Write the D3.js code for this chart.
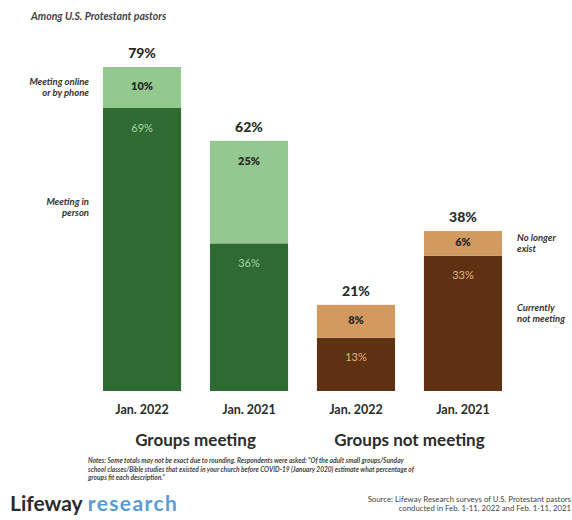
<!DOCTYPE html>
<html>
<head>
<meta charset="utf-8">
<script src="https://cdn.jsdelivr.net/npm/d3@7"></script>
<style>
  html, body { margin: 0; padding: 0; background: #fff; }
  svg { display: block; }
</style>
</head>
<body>
<svg id="chart" width="572" height="520"></svg>
<script>
// ---- data ----
const categories = ["Jan. 2022", "Jan. 2021", "Jan. 2022", "Jan. 2021"];
const groupOf = ["Groups meeting", "Groups meeting", "Groups not meeting", "Groups not meeting"];
const groupNames = ["Groups meeting", "Groups not meeting"];
const bottomValues = [69, 36, 13, 33];   // meeting in person / currently not meeting
const topValues = [10, 25, 8, 6];        // online or by phone / no longer exist
const totalLabels = [79, 62, 21, 38];

const svg = d3.select("#chart");
const font = "Lato, 'Open Sans', sans-serif";

const keys = categories.map((c, i) => i);
const x = d3.scaleBand().domain(keys).range([103, 502]).paddingInner(0.27).paddingOuter(0);
const y = d3.scaleLinear().domain([0, 79]).range([391, 67]);

const colors = {
  "Groups meeting": { bottom: "#2f6a33", top: "#93c98e", botText: "#a9d6a4" },
  "Groups not meeting": { bottom: "#5e3113", top: "#d29a5f", botText: "#e6b27a" }
};

// subtitle
svg.append("text").attr("x", 31).attr("y", 20)
  .attr("font-family", font).attr("font-size", 10.5).attr("font-style", "italic").attr("font-weight", 700)
  .attr("fill", "#444").text("Among U.S. Protestant pastors");

const bars = svg.append("g");
keys.forEach(i => {
  const g = groupOf[i];
  const c = colors[g];
  const x0 = x(i), w = x.bandwidth();
  const b = bottomValues[i], t = topValues[i];
  bars.append("rect").attr("x", x0).attr("y", y(b)).attr("width", w).attr("height", y(0) - y(b)).attr("fill", c.bottom);
  bars.append("rect").attr("x", x0).attr("y", y(b + t)).attr("width", w).attr("height", y(b) - y(b + t)).attr("fill", c.top);
  const cx = x0 + w / 2;
  const topY = y(b + t), midTop = (y(b + t) + y(b)) / 2;
  bars.append("text").attr("x", cx).attr("y", Math.min(topY + 21, midTop))
    .attr("dominant-baseline", "middle").attr("text-anchor", "middle")
    .attr("font-family", font).attr("font-size", 11).attr("font-weight", 800).attr("fill", "#2b2b2b")
    .text(t + "%");
  bars.append("text").attr("x", cx).attr("y", y(b) + 21)
    .attr("dominant-baseline", "middle").attr("text-anchor", "middle")
    .attr("font-family", font).attr("font-size", 11).attr("font-weight", 400).attr("fill", c.botText)
    .text(b + "%");
  bars.append("text").attr("x", cx).attr("y", topY - 9)
    .attr("text-anchor", "middle")
    .attr("font-family", font).attr("font-size", 14).attr("font-weight", 900).attr("fill", "#2b2b2b")
    .text(totalLabels[i] + "%");
  bars.append("text").attr("x", cx).attr("y", y(0) + 23)
    .attr("text-anchor", "middle")
    .attr("font-family", font).attr("font-size", 12.5).attr("font-weight", 700).attr("fill", "#2b2b2b")
    .text(categories[i]);
});

// group labels
groupNames.forEach(gname => {
  const idx = keys.filter(i => groupOf[i] === gname);
  const left = x(idx[0]), right = x(idx[idx.length - 1]) + x.bandwidth();
  svg.append("text").attr("x", (left + right) / 2).attr("y", y(0) + 55)
    .attr("text-anchor", "middle")
    .attr("font-family", font).attr("font-size", 17).attr("font-weight", 700).attr("fill", "#2b2b2b")
    .text(gname);
});

// side annotations
function multiline(xp, yp, lines, anchor) {
  const t = svg.append("text").attr("x", xp).attr("y", yp).attr("text-anchor", anchor)
    .attr("font-family", font).attr("font-size", 9.5).attr("font-style", "italic").attr("font-weight", 700)
    .attr("fill", "#333");
  lines.forEach((l, k) => t.append("tspan").attr("x", xp).attr("dy", k === 0 ? 0 : 11).text(l));
}
multiline(89, 85, ["Meeting online", "or by phone"], "end");
multiline(89, 205, ["Meeting in", "person"], "end");
multiline(517, 241, ["No longer", "exist"], "start");
multiline(517, 311, ["Currently", "not meeting"], "start");

// note
const note = svg.append("text").attr("x", 88).attr("y", 463)
  .attr("font-family", font).attr("font-size", 6.6).attr("font-style", "italic").attr("font-weight", 700).attr("fill", "#444");
["Notes: Some totals may not be exact due to rounding. Respondents were asked: \u201cOf the adult small groups/Sunday",
 "school classes/Bible studies that existed in your church before COVID-19 (January 2020) estimate what percentage of",
 "groups fit each description.\u201d"].forEach((l, k) => note.append("tspan").attr("x", 88).attr("dy", k === 0 ? 0 : 8.5).text(l));

// logo
const logo = svg.append("text").attr("x", 10).attr("y", 511)
  .attr("font-family", font).attr("font-size", 21).attr("font-weight", 700);
logo.append("tspan").attr("fill", "#2b2b2b").text("Lifeway");
logo.append("tspan").attr("fill", "#5a9bd2").attr("dx", 5).attr("letter-spacing", 1.4).text("research");

// source
const src = svg.append("text").attr("x", 571).attr("y", 502).attr("text-anchor", "end")
  .attr("font-family", font).attr("font-size", 7.8).attr("font-weight", 400).attr("fill", "#444");
["Source: Lifeway Research surveys of U.S. Protestant pastors",
 "conducted in Feb. 1-11, 2022 and Feb. 1-11, 2021"].forEach((l, k) => src.append("tspan").attr("x", 571).attr("dy", k === 0 ? 0 : 8.5).text(l));
</script>
</body>
</html>
